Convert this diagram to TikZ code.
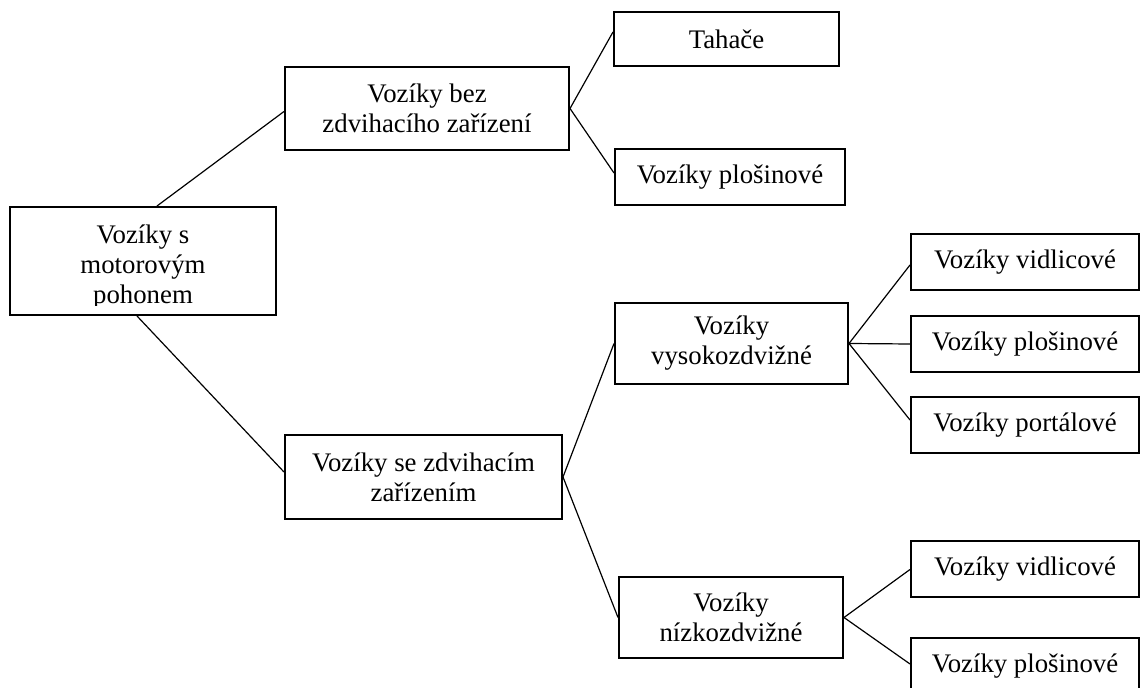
\documentclass[tikz,border=0pt]{standalone}
\usepackage{fontspec}
\setmainfont{Liberation Serif}
\begin{document}
\begin{tikzpicture}[x=0.5pt,y=-0.5pt,
  txt/.style={align=center,inner sep=2pt,font=\fontsize{13.4}{15}\selectfont},
  box/.style={txt,draw,line width=1pt},
  leaf/.style={box,minimum width=114pt,minimum height=28pt},
  link/.style={line width=0.6pt}]
  \useasboundingbox (0,0) rectangle (1140,688);
  \node[box,minimum width=133pt,minimum height=54pt] (root) at (143,261) {};
  \begin{scope}
    \clip (root.south west) ++(0,-10) rectangle (root.north east);
    \node[txt] (rootlabel) at (143,267) {Vozíky s\\motorovým\\pohonem};
  \end{scope}
  \node[box,minimum width=142pt,minimum height=41.5pt] (bez) at (427,108.5) {Vozíky bez\\zdvihacího zařízení};
  \node[box,minimum width=138.5pt,minimum height=42pt] (se) at (423.5,477) {Vozíky se zdvihacím\\zařízením};
  \node[box,minimum width=112.5pt,minimum height=27pt] (tahace) at (726.5,39) {Tahače};
  \node[box,minimum width=115pt,minimum height=28pt] (plos) at (730,177) {Vozíky plošinové};
  \node[box,minimum width=116.5pt,minimum height=40.5pt] (vysoko) at (731.5,343.5) {Vozíky\\vysokozdvižné};
  \node[box,minimum width=112pt,minimum height=40.5pt] (nizko) at (731,617.5) {Vozíky\\nízkozdvižné};
  \node[leaf] (vvidl) at (1025,262) {Vozíky vidlicové};
  \node[leaf] (vplos) at (1025,344) {Vozíky plošinové};
  \node[leaf] (vport) at (1025,425) {Vozíky portálové};
  \node[leaf] (nvidl) at (1025,569.5) {Vozíky vidlicové};
  \node[leaf] (nplos) at (1025,666) {Vozíky plošinové};
  \draw[link] ([xshift=7pt]root.north) -- ([yshift=-1.5pt]bez.west);
  \draw[link] ([xshift=-3pt]root.south) -- ([yshift=2.5pt]se.west);
  \draw[link] (bez.east) -- ([yshift=3.5pt]tahace.west);
  \draw[link] (bez.east) -- ([yshift=2pt]plos.west);
  \draw[link] (se.east) -- (vysoko.west);
  \draw[link] (se.east) -- (nizko.west);
  \draw[link] (vysoko.east) -- ([yshift=-1.5pt]vvidl.west);
  \draw[link] (vysoko.east) -- (vplos.west);
  \draw[link] (vysoko.east) -- ([yshift=2.5pt]vport.west);
  \draw[link] (nizko.east) -- (nvidl.west);
  \draw[link] (nizko.east) -- ([yshift=1pt]nplos.west);
\end{tikzpicture}
\end{document}
